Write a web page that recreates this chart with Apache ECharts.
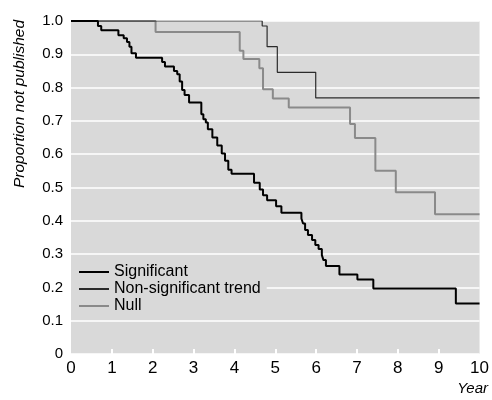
<!DOCTYPE html>
<html>
<head>
<meta charset="utf-8">
<style>
html,body{margin:0;padding:0;background:#fff;}
#main{width:492px;height:400px;}
</style>
<script src="https://cdn.jsdelivr.net/npm/echarts@6/dist/echarts.min.js"></script>
</head>
<body>
<div id="main"></div>
<script>
var seriesNames = ['Significant', 'Non-significant trend', 'Null'];

// [year, proportion] - each point is where the curve steps down to
var significant = [
    [0, 1], [0.66, 0.985], [0.74, 0.972], [1.16, 0.957], [1.29, 0.948], [1.37, 0.937],
    [1.43, 0.923], [1.48, 0.903], [1.59, 0.89], [2.23, 0.877], [2.30, 0.863], [2.52, 0.85],
    [2.60, 0.84], [2.66, 0.818], [2.72, 0.793], [2.78, 0.778], [2.89, 0.755], [3.19, 0.72],
    [3.24, 0.705], [3.30, 0.695], [3.35, 0.675], [3.46, 0.65], [3.58, 0.626], [3.69, 0.602],
    [3.77, 0.58], [3.85, 0.553], [3.93, 0.541], [4.48, 0.514], [4.62, 0.494], [4.70, 0.477],
    [4.80, 0.462], [5.02, 0.444], [5.15, 0.424], [5.64, 0.407], [5.68, 0.392], [5.73, 0.372],
    [5.80, 0.357], [5.90, 0.342], [5.98, 0.327], [6.06, 0.315], [6.14, 0.297], [6.18, 0.282],
    [6.24, 0.264], [6.57, 0.239], [7.01, 0.224], [7.40, 0.197], [9.42, 0.152], [10, 0.152]
];
var nonSigTrend = [
    [0, 1], [4.68, 0.985], [4.80, 0.923], [5.05, 0.846], [5.99, 0.769], [10, 0.769]
];
var nullResult = [
    [0, 1], [2.07, 0.967], [4.13, 0.911], [4.22, 0.886], [4.61, 0.858], [4.70, 0.795],
    [4.94, 0.767], [5.33, 0.74], [6.83, 0.691], [6.95, 0.649], [7.45, 0.55], [7.95, 0.486],
    [8.91, 0.42], [10, 0.42]
];

var xTicks = [1, 2, 3, 4, 5, 6, 7, 8, 9];
var yTickLabels = ['0', '0.1', '0.2', '0.3', '0.4', '0.5', '0.6', '0.7', '0.8', '0.9', '1.0'];

var colors = ['#000', '#2b2b2b', '#8a8a8a'];
var widths = [2, 1.2, 2];

var font = '"Liberation Sans Narrow", "Liberation Sans", Arial, sans-serif';

var chart = echarts.init(document.getElementById('main'));

var option = {
    animation: false,
    textStyle: { fontFamily: font },
    grid: {
        left: 71, right: 10, top: 21, bottom: 46,
        show: true, backgroundColor: '#d9d9d9', borderWidth: 0
    },
    legend: {
        orient: 'vertical',
        left: 71, top: 263,
        padding: [1, 6, 3, 8],
        backgroundColor: '#d9d9d9',
        icon: 'rect',
        itemWidth: 30, itemHeight: 2, itemGap: 1,
        textStyle: { fontFamily: font, fontSize: 16, color: '#000' },
        data: seriesNames.map(function (n, i) {
            return { name: n, itemStyle: { color: colors[i] } };
        })
    },
    xAxis: {
        type: 'value', min: 0, max: 10, interval: 1,
        axisLine: { show: false },
        axisTick: {
            show: true, inside: true, length: 5,
            customValues: xTicks,
            lineStyle: { color: '#fff', width: 2 }
        },
        axisLabel: { fontFamily: font, fontSize: 17, color: '#000', margin: 6 },
        splitLine: { show: false }
    },
    yAxis: {
        type: 'value', min: 0, max: 1, interval: 0.1,
        axisLine: { show: false },
        axisTick: { show: false },
        axisLabel: {
            fontFamily: font, fontSize: 15, color: '#000', margin: 8,
            formatter: function (v) { return yTickLabels[Math.round(v * 10)]; }
        },
        splitLine: { show: true, lineStyle: { color: '#fff', width: 1.5 } }
    },
    graphic: [
        {
            type: 'text', x: 20, y: 20, rotation: Math.PI / 2,
            style: {
                text: 'Proportion not published', fill: '#000',
                font: 'italic 15.5px ' + font, align: 'right', verticalAlign: 'middle'
            }
        },
        {
            type: 'text', right: 4, top: 381,
            style: { text: 'Year', fill: '#000', font: 'italic 15px ' + font }
        }
    ],
    series: [
        {
            name: seriesNames[0], type: 'line', step: 'end', symbol: 'none',
            data: significant, z: 3,
            lineStyle: { color: colors[0], width: widths[0] }, itemStyle: { color: colors[0] }
        },
        {
            name: seriesNames[1], type: 'line', step: 'end', symbol: 'none',
            data: nonSigTrend, z: 2,
            lineStyle: { color: colors[1], width: widths[1] }, itemStyle: { color: colors[1] }
        },
        {
            name: seriesNames[2], type: 'line', step: 'end', symbol: 'none',
            data: nullResult, z: 1,
            lineStyle: { color: colors[2], width: widths[2] }, itemStyle: { color: colors[2] }
        }
    ]
};

chart.setOption(option);
</script>
</body>
</html>
